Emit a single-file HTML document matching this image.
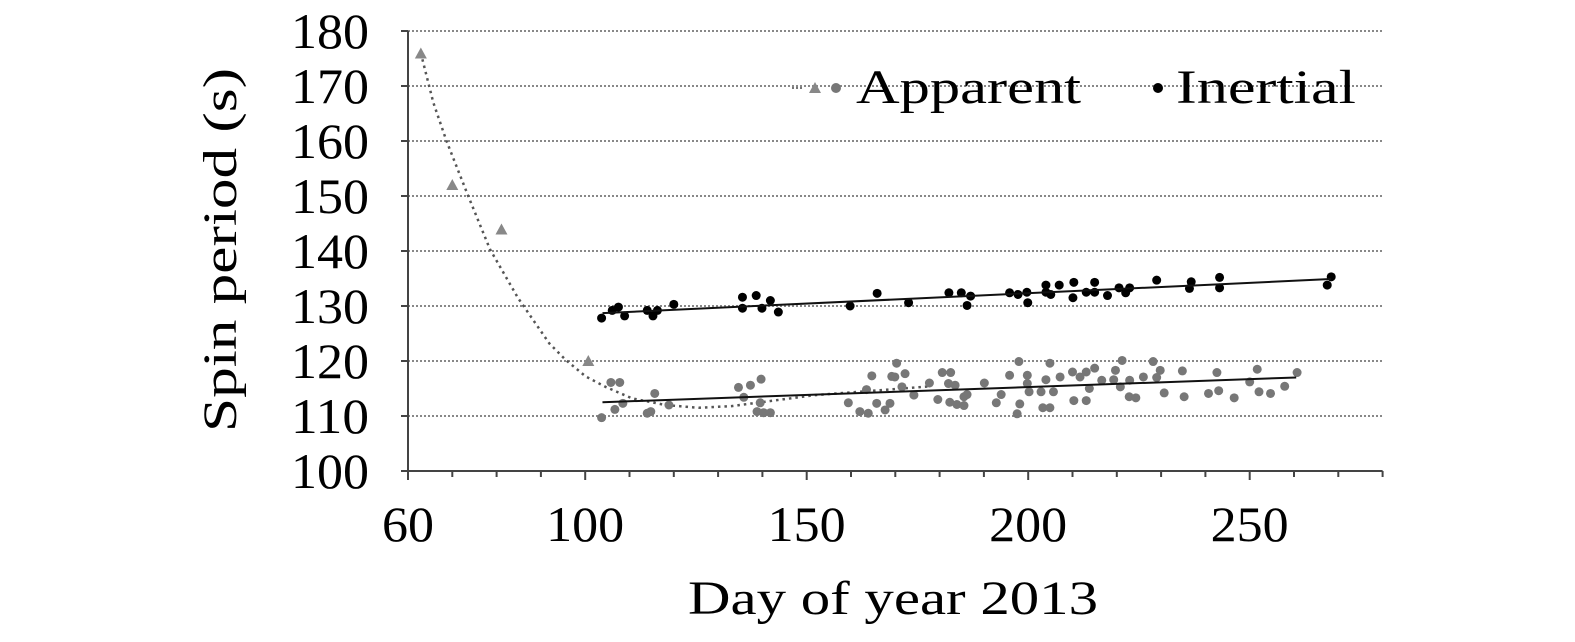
<!DOCTYPE html>
<html><head><meta charset="utf-8"><style>
html,body{margin:0;padding:0;background:#fff;}
svg{display:block;font-family:"Liberation Serif",serif;}
</style></head><body>
<svg id="chart" width="1575" height="642" viewBox="0 0 1575 642" xmlns="http://www.w3.org/2000/svg">
<g id="grid"></g>
<g id="axes"></g>
<g id="series"></g>
<text transform="translate(236,250) rotate(-90)" text-anchor="middle" font-size="48" textLength="364" lengthAdjust="spacingAndGlyphs">Spin period (s)</text>
<text x="893" y="614" text-anchor="middle" font-size="48" textLength="410" lengthAdjust="spacingAndGlyphs">Day of year 2013</text>
<g>
<line x1="792" y1="88" x2="804" y2="88" stroke="#777" stroke-width="2" stroke-dasharray="2,2"/>
<polygon points="815,82 821,93 809,93" fill="#888"/>
<circle cx="836" cy="88" r="5" fill="#777"/>
<text x="856" y="103" font-size="48" textLength="225" lengthAdjust="spacingAndGlyphs">Apparent</text>
<circle cx="1158" cy="88" r="5" fill="#000"/>
<text x="1176" y="103" font-size="48" textLength="180" lengthAdjust="spacingAndGlyphs">Inertial</text>
</g>
</svg>
<script>
const yTicks=[100,110,120,130,140,150,160,170,180];
const xTickLabels=[60,100,150,200,250];
const triDays=[62.9,70,81.1,100.7];
const triVals=[175.9,152,143.9,120];
const fitCurveDays=[62.9,65.7,68.7,73.6,78.5,84.8,91.9,95.6,100.1,104.6,110.6,118.1,125.6,133.1,140.6,151.9,166.9,178];
const fitCurveVals=[176,167,160,150,140.3,131.5,123.2,120.2,117.2,115.3,113.2,112,111.5,111.8,112.6,113.8,114.7,115.4];
const appDays=[103.7,105.8,107.8,106.7,108.5,114,114.8,115.7,118.9,134.6,137.3,139.7,135.8,139.5,138.8,140.3,141.8,159.4,162,163.9,164.7,163.5,165.8,167.7,168.8,169.2,170.3,169.9,172.2,171.5,174.2,177.7,179.6,180.6,182.5,182,183.5,182.3,183.9,185.5,185.5,186.2,190.1,192.8,193.9,195.8,197.9,198.1,197.5,199.8,199.8,200.2,202.9,204,204.9,203.3,204.9,205.7,207.2,210,210.3,211.7,213.1,213.1,213.8,215,216.6,219.3,219.7,221.2,220.8,222.9,222.8,224.3,226,228.2,229.8,229,230.7,234.8,235.2,240.7,242.6,243,246.5,250,251.7,252.1,254.7,257.9,260.7];
const appVals=[109.7,116.1,116.1,111.2,112.3,110.5,110.8,114.1,112,115.2,115.6,116.7,113.4,112.4,110.8,110.6,110.6,112.4,110.8,110.5,117.3,114.8,112.3,111.1,112.3,117.2,119.6,117.1,117.7,115.3,113.8,116,113,117.9,117.9,115.9,115.6,112.5,112.1,111.9,113.5,113.9,116,112.4,113.9,117.4,119.9,112.2,110.4,117.4,115.9,114.4,114.4,116.6,119.6,111.5,111.5,114.4,117.1,118,112.8,117.1,118,112.8,115,118.7,116.5,116.6,118.3,120.1,115.3,116.5,113.5,113.3,117.1,119.9,118.3,117,114.2,118.2,113.5,114.1,117.9,114.6,113.3,116.2,118.5,114.4,114.1,115.4,117.9];
const inDays=[103.7,106.1,107.5,108.9,114,115.3,116.3,120,135.5,135.5,138.6,139.9,141.8,143.6,159.8,165.9,173,182.1,184.9,186.2,187,195.8,197.7,199.7,199.9,204,204,205.1,207,210.1,210.3,213.1,215,215,217.9,220.5,222,222.9,229,236.4,236.8,243.2,243.2,267.5,268.4];
const inVals=[127.8,129.2,129.8,128.2,129.2,128.2,129.2,130.3,131.6,129.6,131.9,129.6,131,128.9,130,132.3,130.6,132.4,132.4,130.1,131.8,132.4,132.1,132.5,130.6,133.8,132.5,132.1,133.8,131.5,134.3,132.5,134.3,132.5,131.9,133.3,132.4,133.3,134.7,133.2,134.4,135.2,133.3,133.8,135.3];
const appFitDays=[103.9,260.5];
const appFitVals=[112.5,117];
const inFitDays=[103.9,268.3];
const inFitVals=[128.7,134.9];

const NS='http://www.w3.org/2000/svg';
const X0=408,PXD=4.43,Y0=471,PXV=5.5;
function xs(d){return X0+(d-60)*PXD;}
function ys(v){return Y0-(v-100)*PXV;}
function mk(tag,attrs,parent){const e=document.createElementNS(NS,tag);for(const k in attrs)e.setAttribute(k,attrs[k]);parent.appendChild(e);return e;}
const grid=document.getElementById('grid'),axes=document.getElementById('axes'),ser=document.getElementById('series');
const xEnd=xs(280);
yTicks.forEach(v=>{
  if(v>100){const g=mk('line',{x1:X0,x2:xEnd,y1:ys(v),y2:ys(v),stroke:'#888','stroke-width':2,'stroke-dasharray':'2,2'},grid);
  
  }
  const t=mk('line',{x1:X0-7,x2:X0,y1:ys(v),y2:ys(v),stroke:'#444','stroke-width':2},axes);
  
  
  const l=mk('text',{x:369,y:ys(v)+17,'text-anchor':'end','font-size':50,textLength:78,lengthAdjust:'spacingAndGlyphs'},axes);
  
  
  l.textContent=v;
});
for(let d=60;d<=280;d+=10){
  const major=xTickLabels.indexOf(d)>=0;
  const t=mk('line',{x1:xs(d),x2:xs(d),y1:Y0,y2:Y0+(major?9:6),stroke:'#444','stroke-width':2},axes);
  
  
}
xTickLabels.forEach(d=>{
  const attrs={x:xs(d),y:541,'text-anchor':'middle','font-size':50,lengthAdjust:'spacingAndGlyphs'};
  attrs.textLength=String(d).length*26;
  const l=mk('text',attrs,axes);
  
  
  l.textContent=d;
});
const ya=mk('line',{x1:X0,x2:X0,y1:ys(180),y2:Y0,stroke:'#444','stroke-width':2},axes);


const xa=mk('line',{x1:X0,x2:xEnd,y1:Y0,y2:Y0,stroke:'#444','stroke-width':2},axes);


let dstr='';
fitCurveDays.forEach((d,i)=>{dstr+=(i?'L':'M')+xs(d).toFixed(1)+','+ys(fitCurveVals[i]).toFixed(1);});
const fc=mk('path',{d:dstr,fill:'none',stroke:'#555','stroke-width':2.5,'stroke-dasharray':'2.5,4'},ser);


appDays.forEach((d,i)=>{
  const c=mk('circle',{cx:xs(d),cy:ys(appVals[i]),r:4.5,fill:'#777'},ser);
  
  
});
triDays.forEach((d,i)=>{
  const x=xs(d),y=ys(triVals[i]);
  const p=mk('polygon',{points:(x)+','+(y-6)+' '+(x+6)+','+(y+5)+' '+(x-6)+','+(y+5),fill:'#888'},ser);
  
  
});
const af=mk('line',{x1:xs(appFitDays[0]),y1:ys(appFitVals[0]),x2:xs(appFitDays[1]),y2:ys(appFitVals[1]),stroke:'#111','stroke-width':2},ser);


inDays.forEach((d,i)=>{
  const c=mk('circle',{cx:xs(d),cy:ys(inVals[i]),r:4.5,fill:'#000'},ser);
  
  
});
const inf=mk('line',{x1:xs(inFitDays[0]),y1:ys(inFitVals[0]),x2:xs(inFitDays[1]),y2:ys(inFitVals[1]),stroke:'#111','stroke-width':2},ser);


</script>
</body></html>
